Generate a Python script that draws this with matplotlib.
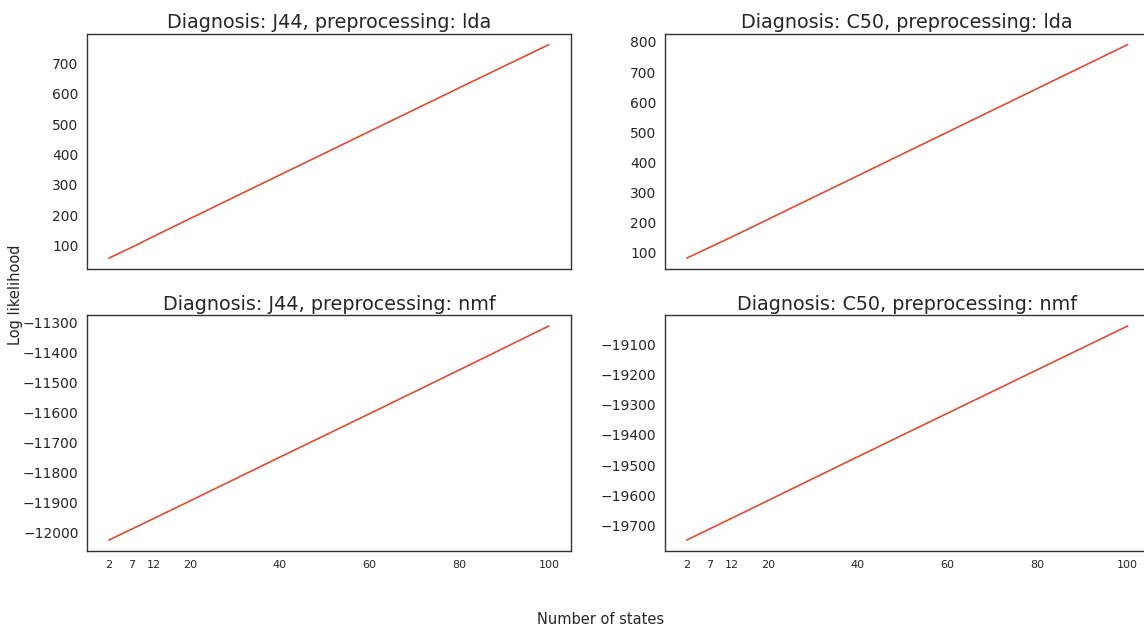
import matplotlib
matplotlib.use('Agg')
import matplotlib.pyplot as plt
import seaborn as sns

# number of hidden states tried
states = [2, 7, 12, 20, 40, 60, 80, 100]

# log likelihood per diagnosis / preprocessing
j44_lda = [58, 93, 130, 188, 332, 476, 620, 763]
c50_lda = [83, 118, 153, 211, 356, 501, 646, 791]
j44_nmf = [-12025, -11989, -11953, -11895, -11749, -11604, -11458, -11311]
c50_nmf = [-19747, -19711, -19675, -19617, -19472, -19328, -19184, -19040]

titles = ['Diagnosis: J44, preprocessing: lda', 'Diagnosis: C50, preprocessing: lda',
          'Diagnosis: J44, preprocessing: nmf', 'Diagnosis: C50, preprocessing: nmf']
series = [j44_lda, c50_lda, j44_nmf, c50_nmf]

sns.set_style('white')
plt.rcParams['font.family'] = ['DejaVu Sans']

fig = plt.figure(figsize=(11.44, 6.28), dpi=100)

# axes boxes (left, bottom, width, height) in figure fractions
boxes = [
    [0.076, 0.572, 0.423, 0.374],
    [0.581, 0.572, 0.424, 0.374],
    [0.076, 0.123, 0.423, 0.375],
    [0.581, 0.123, 0.424, 0.375],
]

for i, (box, title, vals) in enumerate(zip(boxes, titles, series)):
    ax = fig.add_axes(box)
    ax.plot(states, vals, color='#E24A33', linewidth=1.2)
    ax.set_title(title, fontsize=13.8, color='.15', pad=4)
    ax.tick_params(axis='y', labelsize=10, colors='.15', length=0, pad=6)
    ax.tick_params(axis='x', labelsize=8, colors='.15', length=0, pad=7)
    ax.set_xticks(states)
    if i < 2:
        ax.set_xticklabels([])
    for sp in ax.spines.values():
        sp.set_color('.2')
        sp.set_linewidth(1.0)

fig.text(16 / 1144, 1 - 295 / 628, 'Log likelihood', rotation=90, ha='center', va='center',
         fontsize=10.5, color='.15')
fig.text(601 / 1144, 1 - 619 / 628, 'Number of states', ha='center', va='center',
         fontsize=10.5, color='.15')

plt.savefig('out.png', dpi=100)
